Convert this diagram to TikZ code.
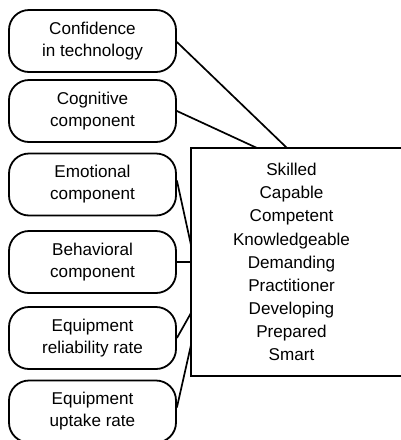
\documentclass[tikz,border=0pt]{standalone}
\usepackage{fontspec}
\setmainfont{Liberation Sans}
\usetikzlibrary{calc}
\begin{document}
\begin{tikzpicture}[x=1pt,y=-1pt,
  conn/.style={line width=1.7pt},
  factor/.style={draw,line width=1.8pt,rounded corners=20pt,minimum width=167pt,minimum height=62pt,inner sep=0pt,align=center,font=\fontsize{17.1}{22}\selectfont},
  outbox/.style={minimum width=221pt,minimum height=228pt,inner sep=0pt,outer sep=0pt,anchor=north west},
  outline/.style={line width=1.8pt},
  words/.style={align=center,inner sep=0pt,font=\fontsize{17.1}{23.1}\selectfont}]
\useasboundingbox (0,0) rectangle (401,440);
\node[factor] (c1) at (92.5,41) {Confidence\\in technology};
\node[factor] (c2) at (92.5,111) {Cognitive\\component};
\node[factor] (c3) at (92.5,184.5) {Emotional\\component};
\node[factor] (c4) at (92.5,262) {Behavioral\\component};
\node[factor] (c5) at (92.5,338) {Equipment\\reliability rate};
\node[factor] (c6) at (92.5,411.5) {Equipment\\uptake rate};
\node[outbox] (R) at (191,148) {};
\draw[outline] (R.north east) -- (R.north west) -- (R.south west) -- (R.south east);
\node[words] (Rt) at (291.5,262) {Skilled\\Capable\\Competent\\Knowledgeable\\Demanding\\Practitioner\\Developing\\Prepared\\Smart};
\draw[conn] ($(c1.east)+(0,1)$) -- ($(R.north west)+(96,0)$);
\draw[conn] (c2.east) -- ($(R.north west)+(66,0)$);
\draw[conn] ($(c3.east)+(0,-4)$) -- ($(R.north west)+(0,97)$);
\draw[conn] (c4.east) -- (c4.east -| R.west);
\draw[conn] (c5.east) -- ($(R.north west)+(0,165)$);
\draw[conn] ($(c6.east)+(0,-4)$) -- ($(R.north west)+(0,197)$);
\end{tikzpicture}
\end{document}
